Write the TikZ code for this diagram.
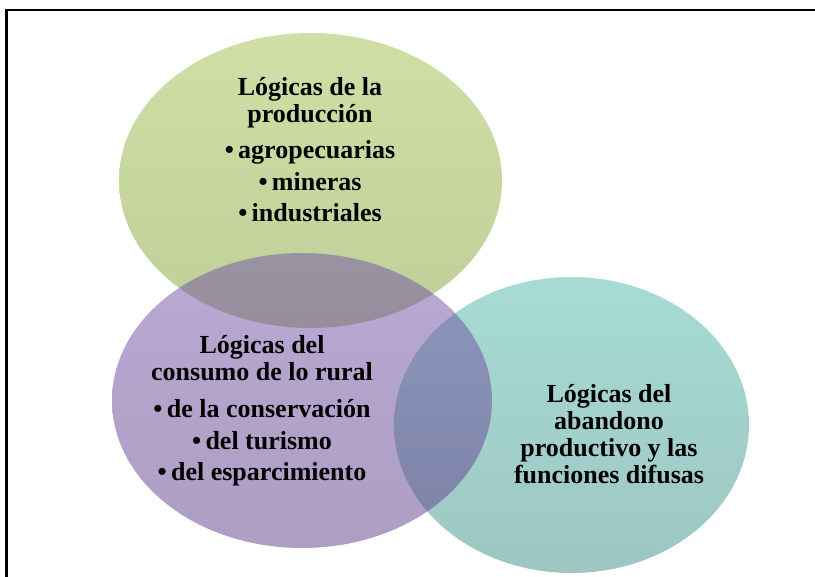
\documentclass[tikz,border=0pt]{standalone}
\usepackage{fontspec}
\setmainfont{Liberation Serif}
\usepackage{tikz}

\definecolor{prodtop}{RGB}{159,191,75}
\definecolor{prodbot}{RGB}{127,159,49}
\definecolor{constop}{RGB}{115,83,169}
\definecolor{consbot}{RGB}{93,61,135}
\definecolor{abantop}{RGB}{79,185,171}
\definecolor{abanbot}{RGB}{61,141,135}

\begin{document}
\begin{tikzpicture}[x=1pt, y=-1pt,
        lobe/.style={fill opacity=0.5},
        lbl/.style={align=center, inner sep=0pt, anchor=north,
            font=\bfseries\fontsize{26}{27}\selectfont}]
        \useasboundingbox (0,0) rectangle (815,577);

        % frame
        \draw[line width=2.3pt] (6.5,577) -- (6.5,10) -- (815,10);

        % circles
        \shade[lobe, top color=prodtop, bottom color=prodbot] (310.5,180.5) ellipse (191.5 and 147.5);
        \shade[lobe, top color=abantop, bottom color=abanbot] (571.5,425) ellipse (177.5 and 148);
        \shade[lobe, top color=constop, bottom color=consbot] (302,400.5) ellipse (190 and 147.5);

        \node[lbl] (prod) at (310,77) {L\'ogicas de la\\ producci\'on\\[9pt]
            \textbullet\,agropecuarias\\[5pt] \textbullet\,mineras\\[4pt] \textbullet\,industriales};
        \node[lbl] (cons) at (262,335) {L\'ogicas del\\ consumo de lo rural\\[10pt]
            \textbullet\,de la conservaci\'on\\[5pt] \textbullet\,del turismo\\[4pt] \textbullet\,del esparcimiento};
        \node[lbl] (aban) at (609,384) {L\'ogicas del\\ abandono\\ productivo y las\\ funciones difusas};
    \end{tikzpicture}
\end{document}
